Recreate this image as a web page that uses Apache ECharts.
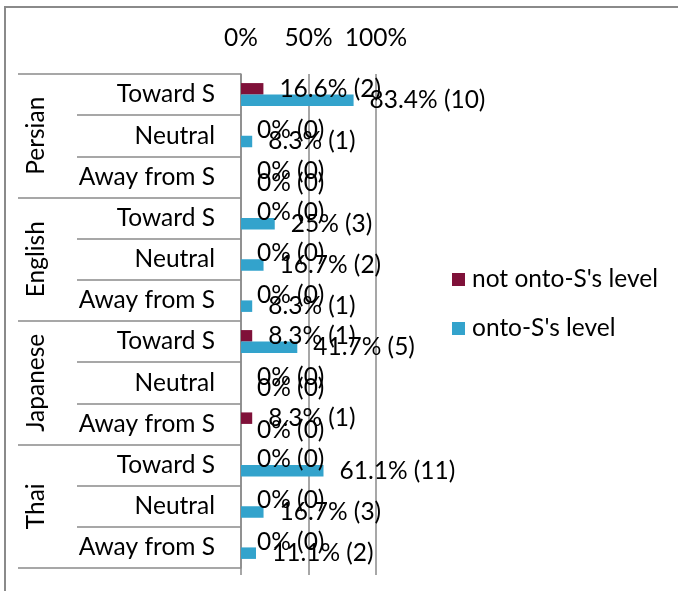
<!DOCTYPE html>
<html>
<head>
<meta charset="utf-8">
<script src="https://cdn.jsdelivr.net/npm/echarts@6/dist/echarts.min.js"></script>
<style>
  html, body { margin: 0; padding: 0; background: #ffffff; overflow: hidden; }
  #chart { width: 678px; height: 591px; }
</style>
</head>
<body>
<div id="chart"></div>
<script>
// Language groups and the speaker's movement relative to S within each group
const groups = ['Persian', 'English', 'Japanese', 'Thai'];
const positions = ['Toward S', 'Neutral', 'Away from S'];
const seriesNames = ["not onto-S's level", "onto-S's level"];

// Percentages and raw counts, one entry per (group, position) row, top to bottom
const notOntoPct = [16.6, 0, 0,   0, 0, 0,      8.3, 0, 8.3,   0, 0, 0];
const notOntoN   = [2, 0, 0,      0, 0, 0,      1, 0, 1,       0, 0, 0];
const ontoPct    = [83.4, 8.3, 0, 25, 16.7, 8.3, 41.7, 0, 0,   61.1, 16.7, 11.1];
const ontoN      = [10, 1, 0,     3, 2, 1,      5, 0, 0,       11, 3, 2];

// Value axis ticks (percent)
const xTicks = [0, 50, 100];

const FONT = 'Lato';
const FS = 24.5;
const GREY = '#8a8a8a';
const COLORS = ['#7f1139', '#33a3cc'];

const rows = groups.flatMap(() => positions);

function pctLabel(pcts, counts) {
  return function (p) {
    return pcts[p.dataIndex] + '% (' + counts[p.dataIndex] + ')';
  };
}

const chart = echarts.init(document.getElementById('chart'), null, { renderer: 'canvas' });

const barLabel = (pcts, counts) => ({
  show: true,
  position: 'right',
  distance: 16,
  formatter: pctLabel(pcts, counts),
  color: '#000',
  fontFamily: FONT,
  fontSize: FS
});

chart.setOption({
  animation: false,
  backgroundColor: '#ffffff',
  textStyle: { fontFamily: FONT },
  // chart frame: only its left and top edges fall inside the view
  graphic: [{
    type: 'polyline',
    shape: { points: [[5, 620], [5, 7], [720, 7]] },
    style: { fill: null, stroke: GREY, lineWidth: 2 },
    silent: true,
    z: -1
  }],
  legend: {
    orient: 'vertical',
    left: 447,
    top: 262,
    icon: 'rect',
    itemWidth: 13,
    itemHeight: 13,
    itemGap: 24,
    textStyle: { fontFamily: FONT, fontSize: FS, color: '#000', padding: [0, 0, 0, 2] },
    data: seriesNames
  },
  grid: { left: 241, right: 302, top: 74, bottom: 23, containLabel: false },
  xAxis: [{
    type: 'value',
    position: 'top',
    min: xTicks[0],
    max: xTicks[xTicks.length - 1],
    interval: xTicks[1] - xTicks[0],
    axisLine: { show: false },
    axisTick: { show: false },
    splitLine: { show: true, lineStyle: { color: GREY, width: 1.5 } },
    axisLabel: { formatter: '{value}%', margin: 23, color: '#000', fontFamily: FONT, fontSize: FS }
  }, {
    type: 'value',
    position: 'bottom',
    min: xTicks[0],
    max: xTicks[xTicks.length - 1],
    interval: xTicks[1] - xTicks[0],
    axisLine: { show: false },
    axisTick: { show: true, length: 7, lineStyle: { color: GREY, width: 1.5 } },
    splitLine: { show: false },
    axisLabel: { show: false }
  }],
  yAxis: [{
    type: 'category',
    inverse: true,
    data: rows,
    position: 'left',
    axisLine: { show: true, lineStyle: { color: GREY, width: 1.5 } },
    axisTick: { show: true, interval: 0, length: 164, lineStyle: { color: GREY, width: 1.5 } },
    axisLabel: { interval: 0, margin: 26, color: '#000', fontFamily: FONT, fontSize: FS, align: 'right' },
    splitLine: { show: false }
  }, {
    type: 'category',
    inverse: true,
    data: groups,
    position: 'left',
    axisLine: { show: false },
    axisTick: { show: true, interval: 0, length: 223, lineStyle: { color: GREY, width: 1.5 } },
    axisLabel: { interval: 0, rotate: 90, margin: 192, color: '#000', fontFamily: FONT, fontSize: FS },
    splitLine: { show: false }
  }],
  series: [{
    name: seriesNames[0],
    type: 'bar',
    xAxisIndex: 0,
    yAxisIndex: 0,
    data: notOntoPct,
    barWidth: 11.5,
    barGap: '0%',
    itemStyle: { color: COLORS[0] },
    label: barLabel(notOntoPct, notOntoN)
  }, {
    name: seriesNames[1],
    type: 'bar',
    xAxisIndex: 0,
    yAxisIndex: 0,
    data: ontoPct,
    barWidth: 11.5,
    barGap: '0%',
    itemStyle: { color: COLORS[1] },
    label: barLabel(ontoPct, ontoN)
  }]
});
</script>
</body>
</html>
